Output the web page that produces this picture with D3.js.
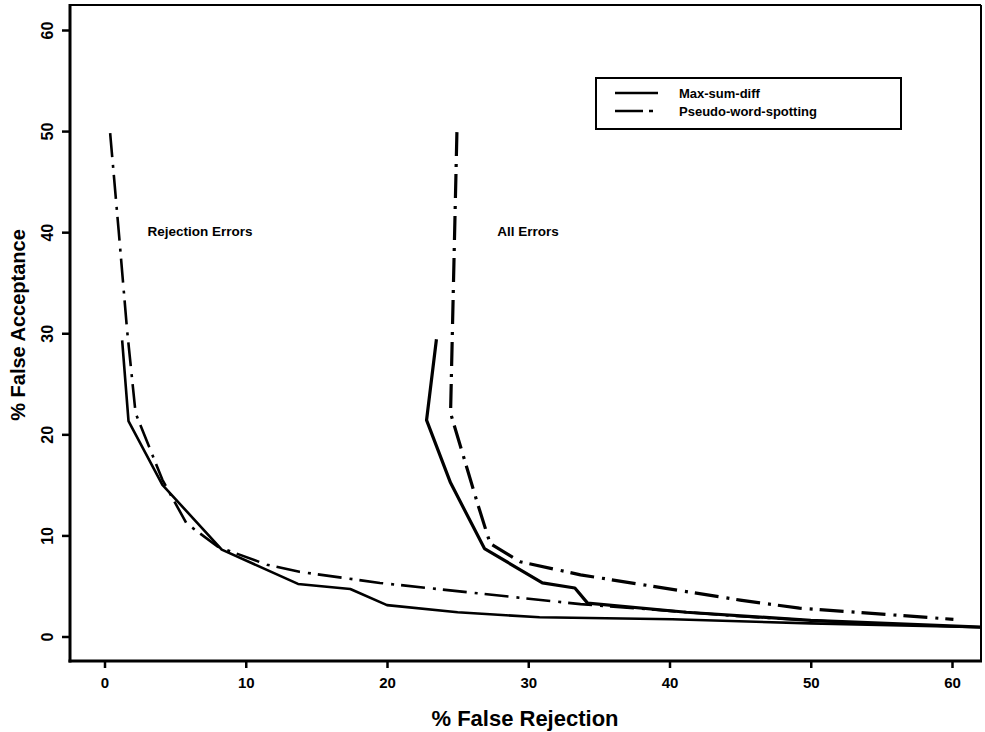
<!DOCTYPE html>
<html>
<head>
  <meta charset="utf-8">
  <title>False Acceptance vs False Rejection</title>
  <script src="https://cdn.jsdelivr.net/npm/d3@7/dist/d3.min.js"></script>
  <style>
    body { margin: 0; background: #fff; }
    text { font-family: "Liberation Sans", Arial, sans-serif; font-weight: bold; fill: #000; }
  </style>
</head>
<body>
<svg id="chart" width="985" height="732"></svg>
<script>
// curves, [% false rejection, % false acceptance]
var rejMaxSumDiff = [[1.25, 29.3], [1.7, 21.3], [4.1, 15.0], [8.3, 8.6], [13.7, 5.2], [17.4, 4.7],
                     [20.0, 3.1], [25, 2.4], [30.8, 1.9], [40.2, 1.7], [50, 1.3], [62.5, 0.9]];
var rejPseudo = [[0.4, 49.8], [1.0, 40.2], [1.6, 30.3], [2.2, 22.1], [4.1, 15.5], [5.8, 11.2], [8.0, 8.9],
                 [11.5, 7.1], [13.8, 6.4], [19.5, 5.3], [33.7, 3.2], [45, 2.0], [55, 1.2]];
var allMaxSumDiff = [[23.5, 29.4], [22.8, 21.4], [24.5, 15.2], [26.9, 8.7], [31.0, 5.3], [33.3, 4.8],
                     [34.2, 3.3], [41.2, 2.4], [50, 1.6], [62.5, 0.9]];
var allPseudo = [[24.95, 49.9], [24.7, 34.6], [24.5, 22.1], [26.4, 13.2], [27.3, 9.2], [29.4, 7.4],
                 [33.7, 6.1], [45.0, 3.6], [49.2, 2.8], [60.1, 1.7]];

var xTicks = [0, 10, 20, 30, 40, 50, 60];
var yTicks = [0, 10, 20, 30, 40, 50, 60];
var legendNames = ["Max-sum-diff", "Pseudo-word-spotting"];
var curveLabels = [{text: "Rejection Errors", x: 3.05, y: 39.6}, {text: "All Errors", x: 27.8, y: 39.6}];

var plot = {left: 70, right: 981, top: 5, bottom: 661};
var dashDot = "24,8,3,7";

var svg = d3.select("#chart");

var x = d3.scaleLinear().domain([0, 60]).range([104.5, 952]);
var y = d3.scaleLinear().domain([0, 60]).range([636.5, 30]);

svg.append("clipPath").attr("id", "clip")
  .append("rect")
    .attr("x", plot.left).attr("y", plot.top)
    .attr("width", plot.right - plot.left).attr("height", plot.bottom - plot.top);

// frame
svg.append("line").attr("x1", plot.left).attr("x2", plot.right).attr("y1", plot.top).attr("y2", plot.top)
  .attr("stroke", "#000").attr("stroke-width", 2);
svg.append("line").attr("x1", plot.right).attr("x2", plot.right).attr("y1", plot.top).attr("y2", plot.bottom)
  .attr("stroke", "#000").attr("stroke-width", 2);
svg.append("line").attr("x1", plot.left).attr("x2", plot.left).attr("y1", plot.top - 1).attr("y2", plot.bottom + 1.5)
  .attr("stroke", "#000").attr("stroke-width", 3);
svg.append("line").attr("x1", plot.left - 1.5).attr("x2", plot.right + 1).attr("y1", plot.bottom).attr("y2", plot.bottom)
  .attr("stroke", "#000").attr("stroke-width", 3);

// axes
var xAxis = svg.append("g")
    .attr("transform", "translate(0," + plot.bottom + ")")
    .call(d3.axisBottom(x).tickValues(xTicks).tickSize(7).tickSizeOuter(0));
xAxis.select(".domain").remove();
xAxis.selectAll("line").attr("stroke-width", 2.5);
xAxis.selectAll("text").attr("y", 16).style("font-size", "15px");

var yAxis = svg.append("g")
    .attr("transform", "translate(" + plot.left + ",0)")
    .call(d3.axisLeft(y).tickValues(yTicks).tickSize(8).tickSizeOuter(0));
yAxis.select(".domain").remove();
yAxis.selectAll("line").attr("stroke-width", 2.5);
yAxis.selectAll("text")
    .attr("x", 0).attr("y", -17).attr("dy", null)
    .attr("transform", "rotate(-90)")
    .attr("text-anchor", "middle")
    .style("font-size", "16px");

// axis titles
svg.append("text").attr("x", 525).attr("y", 726).attr("text-anchor", "middle")
  .style("font-size", "22px").text("% False Rejection");
svg.append("text").attr("transform", "translate(25,325) rotate(-90)").attr("text-anchor", "middle")
  .style("font-size", "20px").text("% False Acceptance");

// curves
var line = d3.line().x(function(d) { return x(d[0]); }).y(function(d) { return y(d[1]); });
var g = svg.append("g").attr("clip-path", "url(#clip)");

var curves = [
  {data: rejPseudo, dash: dashDot, w: 2.6},
  {data: rejMaxSumDiff, dash: null, w: 2.6},
  {data: allPseudo, dash: dashDot, w: 3.2},
  {data: allMaxSumDiff, dash: null, w: 3.2}
];
g.selectAll(".curve")
    .data(curves)
  .enter().append("path")
    .attr("class", "curve")
    .attr("d", function(d) { return line(d.data); })
    .attr("fill", "none")
    .attr("stroke", "#000")
    .attr("stroke-width", function(d) { return d.w; })
    .attr("stroke-dasharray", function(d) { return d.dash; })
    .attr("stroke-linejoin", "round");

// curve labels
svg.selectAll(".clabel")
    .data(curveLabels)
  .enter().append("text")
    .attr("class", "clabel")
    .attr("x", function(d) { return x(d.x); })
    .attr("y", function(d) { return y(d.y); })
    .style("font-size", "13.5px")
    .text(function(d) { return d.text; });

// legend
var legend = svg.append("g");
legend.append("rect").attr("x", 596).attr("y", 78).attr("width", 305).attr("height", 51)
  .attr("fill", "none").attr("stroke", "#000").attr("stroke-width", 2);
legendNames.forEach(function(name, i) {
  var ly = 93 + i * 18;
  legend.append("line").attr("x1", 615).attr("x2", 658).attr("y1", ly).attr("y2", ly)
    .attr("stroke", "#000").attr("stroke-width", 2.5)
    .attr("stroke-dasharray", i === 0 ? null : "28,6,4,20");
  legend.append("text").attr("x", 679).attr("y", ly + 4.5).style("font-size", "13px").text(name);
});
</script>
</body>
</html>
